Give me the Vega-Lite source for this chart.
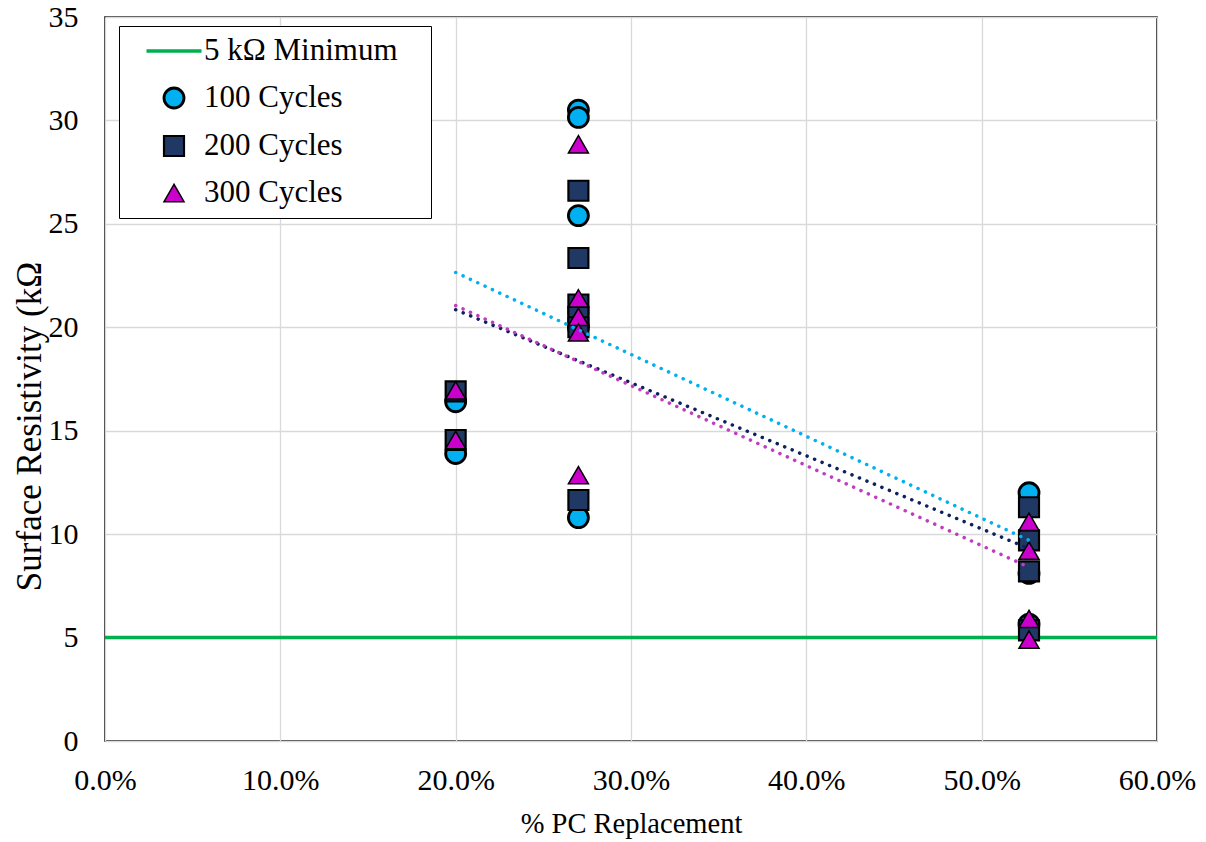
{
  "$schema": "https://vega.github.io/schema/vega-lite/v6.json",
  "autosize": "none",
  "width": 1052,
  "height": 724,
  "padding": {"left": 105, "top": 17, "right": 49, "bottom": 101},
  "background": "white",
  "config": {
    "font": "Liberation Serif",
    "view": {"stroke": "black", "strokeWidth": 1.5},
    "axis": {
      "labelFont": "Liberation Serif",
      "titleFont": "Liberation Serif",
      "labelColor": "black",
      "titleColor": "black",
      "labelFontSize": 30,
      "titleFontSize": 28.5,
      "titleFontWeight": "normal",
      "labelFlush": false,
      "labelOverlap": false,
      "ticks": false,
      "tickSize": 0,
      "domain": false,
      "grid": true,
      "gridColor": "#D9D9D9",
      "gridWidth": 1.3
    },
    "legend": {
      "orient": "none",
      "legendX": 14,
      "legendY": 9,
      "padding": 9.5,
      "strokeColor": "black",
      "fillColor": "white",
      "labelFont": "Liberation Serif",
      "labelFontSize": 31,
      "labelColor": "black",
      "labelLimit": 400,
      "symbolSize": 400,
      "symbolOffset": 30,
      "labelOffset": 14.5,
      "rowPadding": 15,
      "titleOrient": "right",
      "titleFontSize": 1,
      "titlePadding": 23.5
    }
  },
  "datasets": {
    "points": [
      {"series": "100 Cycles", "pc": 0.2, "r": 16.4},
      {"series": "100 Cycles", "pc": 0.2, "r": 13.9},
      {"series": "100 Cycles", "pc": 0.27, "r": 30.5},
      {"series": "100 Cycles", "pc": 0.27, "r": 30.15},
      {"series": "100 Cycles", "pc": 0.27, "r": 25.4},
      {"series": "100 Cycles", "pc": 0.27, "r": 20.0},
      {"series": "100 Cycles", "pc": 0.27, "r": 10.8},
      {"series": "100 Cycles", "pc": 0.527, "r": 12.0},
      {"series": "100 Cycles", "pc": 0.527, "r": 8.1},
      {"series": "100 Cycles", "pc": 0.527, "r": 5.65},
      {"series": "200 Cycles", "pc": 0.2, "r": 16.9},
      {"series": "200 Cycles", "pc": 0.2, "r": 14.55},
      {"series": "200 Cycles", "pc": 0.27, "r": 26.6},
      {"series": "200 Cycles", "pc": 0.27, "r": 23.35},
      {"series": "200 Cycles", "pc": 0.27, "r": 21.1},
      {"series": "200 Cycles", "pc": 0.27, "r": 20.5},
      {"series": "200 Cycles", "pc": 0.27, "r": 20.0},
      {"series": "200 Cycles", "pc": 0.27, "r": 11.65},
      {"series": "200 Cycles", "pc": 0.527, "r": 11.3},
      {"series": "200 Cycles", "pc": 0.527, "r": 9.7},
      {"series": "200 Cycles", "pc": 0.527, "r": 8.2},
      {"series": "200 Cycles", "pc": 0.527, "r": 5.35},
      {"series": "300 Cycles", "pc": 0.2, "r": 16.95},
      {"series": "300 Cycles", "pc": 0.2, "r": 14.55},
      {"series": "300 Cycles", "pc": 0.27, "r": 28.85},
      {"series": "300 Cycles", "pc": 0.27, "r": 21.4},
      {"series": "300 Cycles", "pc": 0.27, "r": 20.5},
      {"series": "300 Cycles", "pc": 0.27, "r": 19.75},
      {"series": "300 Cycles", "pc": 0.27, "r": 12.85},
      {"series": "300 Cycles", "pc": 0.527, "r": 10.6},
      {"series": "300 Cycles", "pc": 0.527, "r": 9.2},
      {"series": "300 Cycles", "pc": 0.527, "r": 5.9},
      {"series": "300 Cycles", "pc": 0.527, "r": 4.9}
    ],
    "trends": [
      {"series": "100 Cycles", "pc": 0.2, "r": 22.65},
      {"series": "100 Cycles", "pc": 0.527, "r": 9.7},
      {"series": "200 Cycles", "pc": 0.2, "r": 20.85},
      {"series": "200 Cycles", "pc": 0.527, "r": 9.3},
      {"series": "300 Cycles", "pc": 0.2, "r": 21.05},
      {"series": "300 Cycles", "pc": 0.527, "r": 8.4}
    ],
    "limit": [
      {"series": "5 kΩ Minimum", "r": 5}
    ]
  },
  "layer": [
    {
      "data": {"name": "limit"},
      "mark": {"type": "rule", "color": "#00B050", "strokeWidth": 3.5},
      "encoding": {
        "y": {"field": "r", "type": "quantitative", "scale": {"domain": [0, 35]}}
      }
    },
    {
      "data": {"name": "points"},
      "mark": {"type": "point", "filled": true, "opacity": 1, "size": 400},
      "encoding": {
        "x": {
          "field": "pc", "type": "quantitative",
          "scale": {"domain": [0, 0.6], "nice": false},
          "axis": {"values": [0, 0.1, 0.2, 0.3, 0.4, 0.5, 0.6], "format": ".1%", "title": "% PC Replacement", "labelPadding": 24, "titlePadding": 14}
        },
        "y": {
          "field": "r", "type": "quantitative",
          "scale": {"domain": [0, 35], "nice": false},
          "axis": {"values": [0, 5, 10, 15, 20, 25, 30, 35], "title": "Surface Resistivity (kΩ", "labelPadding": 27, "titleFontSize": 35, "titleX": -76, "titleY": 409, "titleAngle": -90, "titleAlign": "center", "titleBaseline": "middle"}
        },
        "color": {
          "field": "series", "type": "nominal",
          "scale": {"domain": ["5 kΩ Minimum", "100 Cycles", "200 Cycles", "300 Cycles"], "range": ["#00B050", "#00B0F0", "#203864", "#CC00CC"]},
          "legend": {"title": " "}
        },
        "stroke": {
          "field": "series", "type": "nominal",
          "scale": {"domain": ["5 kΩ Minimum", "100 Cycles", "200 Cycles", "300 Cycles"], "range": ["#00B050", "#000000", "#000000", "#000000"]},
          "legend": {"title": " "}
        },
        "strokeWidth": {
          "field": "series", "type": "ordinal",
          "scale": {"domain": ["5 kΩ Minimum", "100 Cycles", "200 Cycles", "300 Cycles"], "range": [3.5, 1.5, 1.5, 1.5]},
          "legend": {"title": " "}
        },
        "shape": {
          "field": "series", "type": "nominal",
          "scale": {"domain": ["5 kΩ Minimum", "100 Cycles", "200 Cycles", "300 Cycles"], "range": ["M-2.75,0H2.75", "circle", "square", "triangle-up"]},
          "legend": {"title": " "}
        }
      }
    },
    {
      "data": {"name": "trends"},
      "transform": [{"filter": "datum.series === '100 Cycles'"}],
      "mark": {"type": "line", "color": "#00B0F0", "strokeWidth": 3.5, "strokeDash": [0.1, 8], "strokeCap": "round"},
      "encoding": {
        "x": {"field": "pc", "type": "quantitative"},
        "y": {"field": "r", "type": "quantitative"}
      }
    },
    {
      "data": {"name": "trends"},
      "transform": [{"filter": "datum.series === '200 Cycles'"}],
      "mark": {"type": "line", "color": "#0D215C", "strokeWidth": 3.5, "strokeDash": [0.1, 8], "strokeCap": "round"},
      "encoding": {
        "x": {"field": "pc", "type": "quantitative"},
        "y": {"field": "r", "type": "quantitative"}
      }
    },
    {
      "data": {"name": "trends"},
      "transform": [{"filter": "datum.series === '300 Cycles'"}],
      "mark": {"type": "line", "color": "#C03CC0", "strokeWidth": 3.5, "strokeDash": [0.1, 8], "strokeCap": "round"},
      "encoding": {
        "x": {"field": "pc", "type": "quantitative"},
        "y": {"field": "r", "type": "quantitative"}
      }
    }
  ]
}
